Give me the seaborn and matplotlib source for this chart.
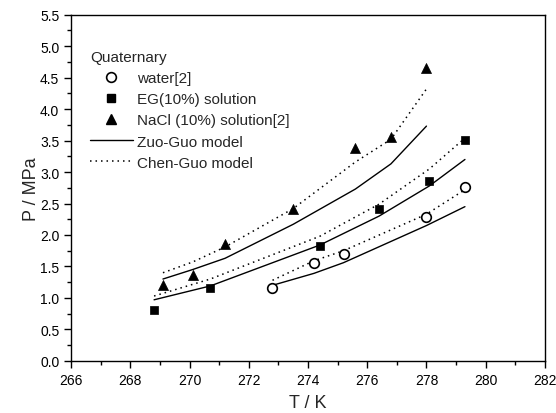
import matplotlib
matplotlib.use("Agg")
import matplotlib.pyplot as plt
from matplotlib.lines import Line2D
from matplotlib.ticker import MultipleLocator
import seaborn as sns

# ---- data ----
T_water = [272.8, 274.2, 275.2, 278.0, 279.3]
P_water = [1.16, 1.55, 1.69, 2.29, 2.77]
zuo_water = [1.20, 1.39, 1.56, 2.15, 2.45]
chen_water = [1.28, 1.59, 1.75, 2.33, 2.72]

T_eg = [268.8, 270.7, 274.4, 276.4, 278.1, 279.3]
P_eg = [0.81, 1.16, 1.83, 2.41, 2.85, 3.51]
zuo_eg = [0.97, 1.19, 1.84, 2.30, 2.78, 3.20]
chen_eg = [1.03, 1.30, 1.98, 2.49, 3.05, 3.54]

T_nacl = [269.1, 270.1, 271.2, 273.5, 275.6, 276.8, 278.0]
P_nacl = [1.20, 1.36, 1.85, 2.42, 3.38, 3.56, 4.66]
zuo_nacl = [1.30, 1.45, 1.63, 2.17, 2.73, 3.13, 3.73]
chen_nacl = [1.40, 1.57, 1.81, 2.42, 3.16, 3.52, 4.32]

legend_title = "Quaternary"
labels = ["water[2]", "EG(10%) solution", "NaCl (10%) solution[2]",
          "Zuo-Guo model", "Chen-Guo model"]

sns.set_theme(style="ticks")
plt.rcParams['font.family'] = ['Liberation Sans', 'DejaVu Sans']

fig, ax = plt.subplots(figsize=(5.56, 4.14), dpi=100)
fig.subplots_adjust(left=0.128, right=0.980, top=0.962, bottom=0.126)

dotted = (0, (1, 2.6))
for T, zuo, chen in [(T_water, zuo_water, chen_water),
                     (T_eg, zuo_eg, chen_eg),
                     (T_nacl, zuo_nacl, chen_nacl)]:
    sns.lineplot(x=T, y=zuo, ax=ax, color='black', linewidth=1.0,
                 linestyle='-', sort=False, estimator=None)
    sns.lineplot(x=T, y=chen, ax=ax, color='black', linewidth=1.1,
                 linestyle=dotted, sort=False, estimator=None)

sns.scatterplot(x=T_water, y=P_water, ax=ax, marker='o', s=48,
                facecolor='white', edgecolor='black', linewidth=1.2, zorder=5)
sns.scatterplot(x=T_eg, y=P_eg, ax=ax, marker='s', s=36,
                color='black', edgecolor='black', linewidth=0.5, zorder=5)
sns.scatterplot(x=T_nacl, y=P_nacl, ax=ax, marker='^', s=52,
                color='black', edgecolor='black', linewidth=0.5, zorder=5)

ax.set_xlim(266, 282)
ax.set_ylim(0.0, 5.5)
ax.xaxis.set_major_locator(MultipleLocator(2))
ax.xaxis.set_minor_locator(MultipleLocator(1))
ax.yaxis.set_major_locator(MultipleLocator(0.5))
ax.yaxis.set_minor_locator(MultipleLocator(0.25))
ax.yaxis.set_major_formatter(matplotlib.ticker.FormatStrFormatter('%.1f'))
ax.tick_params(which='major', direction='out', length=5, width=1,
               labelsize=10, color='black', labelcolor='black')
ax.tick_params(which='minor', direction='out', length=3, width=1, color='black')
ax.tick_params(top=False, right=False, which='both')
for s in ax.spines.values():
    s.set_visible(True)
    s.set_linewidth(1.0)
    s.set_color('black')
ax.set_xlabel("T / K", fontsize=13, labelpad=5)
ax.set_ylabel("P / MPa", fontsize=13, labelpad=0)

handles = [
    Line2D([], [], linestyle='none', marker='o', markersize=7,
           markerfacecolor='white', markeredgecolor='black', markeredgewidth=1.2),
    Line2D([], [], linestyle='none', marker='s', markersize=6,
           color='black'),
    Line2D([], [], linestyle='none', marker='^', markersize=7,
           color='black'),
    Line2D([], [], color='black', linewidth=1.0, linestyle='-'),
    Line2D([], [], color='black', linewidth=1.1, linestyle=dotted),
]
leg = ax.legend(handles, labels, title=legend_title, loc='upper left',
                bbox_to_anchor=(0.02, 0.925), frameon=False, fontsize=11,
                title_fontsize=11, handlelength=2.8, handletextpad=0.3,
                labelspacing=0.47, alignment='left', borderaxespad=0.2)

fig.savefig("out.png", dpi=100)
